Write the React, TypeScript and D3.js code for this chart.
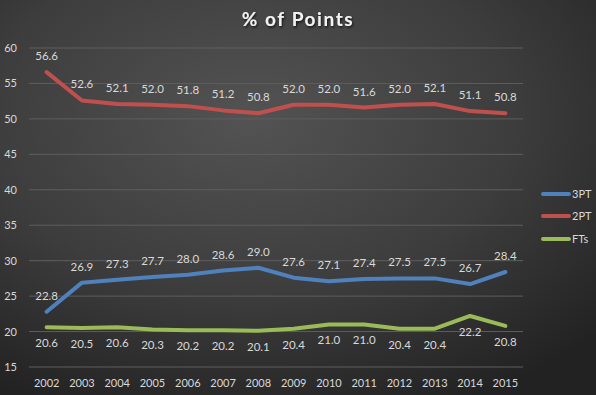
import React from "react";
import * as d3 from "d3";

const years = ["2002","2003","2004","2005","2006","2007","2008","2009","2010","2011","2012","2013","2014","2015"];
const seriesNames = ["3PT", "2PT", "FTs"];
const threePT = [22.8, 26.9, 27.3, 27.7, 28.0, 28.6, 29.0, 27.6, 27.1, 27.4, 27.5, 27.5, 26.7, 28.4];
const twoPT = [56.6, 52.6, 52.1, 52.0, 51.8, 51.2, 50.8, 52.0, 52.0, 51.6, 52.0, 52.1, 51.1, 50.8];
const fts = [20.6, 20.5, 20.6, 20.3, 20.2, 20.2, 20.1, 20.4, 21.0, 21.0, 20.4, 20.4, 22.2, 20.8];
const yTicks = [15, 20, 25, 30, 35, 40, 45, 50, 55, 60];
const colors = ["#4f81bd", "#c0504d", "#9bbb59"];

const W = 596, H = 395;
const FONT = "Lato, 'Open Sans', sans-serif";

export default function App() {
  const x = d3.scalePoint<string>().domain(years).range([29, 523]).padding(0.5);
  const y = d3.scaleLinear().domain([15, 60]).range([367, 48]);
  const line = d3.line<number>().x((_, i) => x(years[i])!).y(d => y(d));
  const all = [threePT, twoPT, fts];
  const labelBelow = [false, false, true];

  return (
    <svg width={W} height={H} style={{ position: "absolute", left: 0, top: 0 }}>
      <defs>
        <radialGradient id="bg" cx="0.42" cy="0.3" r="0.8">
          <stop offset="0" stopColor="#535353" />
          <stop offset="0.55" stopColor="#3d3d3d" />
          <stop offset="1" stopColor="#222222" />
        </radialGradient>
        <filter id="sh" x="-10%" y="-30%" width="120%" height="160%">
          <feDropShadow dx="1" dy="1.5" stdDeviation="1" floodColor="#000" floodOpacity="0.7" />
        </filter>
      </defs>
      <rect x={0} y={0} width={W} height={H} fill="url(#bg)" />
      <text x={298} y={26} textAnchor="middle" fill="#f2f2f2" fontFamily={FONT} fontWeight="bold"
        fontSize={19} letterSpacing={1.6} filter="url(#sh)">% of Points</text>
      {yTicks.map(t => (
        <g key={t}>
          <line x1={29} x2={523} y1={y(t)} y2={y(t)} stroke="#5e5e5e" strokeWidth={1} />
          <text x={17} y={y(t) + 4} textAnchor="end" fill="#d9d9d9" fontFamily={FONT} fontSize={11}>{t}</text>
        </g>
      ))}
      {years.map(yr => (
        <text key={yr} x={x(yr)} y={387} textAnchor="middle" fill="#d9d9d9" fontFamily={FONT} fontSize={11}>{yr}</text>
      ))}
      {all.map((s, si) => (
        <path key={si} d={line(s)!} fill="none" stroke={colors[si]} strokeWidth={4}
          strokeLinejoin="round" strokeLinecap="round" />
      ))}
      {all.map((s, si) => s.map((v, i) => (
        <text key={si + "-" + i} x={x(years[i])} y={labelBelow[si] ? y(v) + 20 : y(v) - 12}
          textAnchor="middle" fill="#d9d9d9" fontFamily={FONT} fontSize={11.5}>{v.toFixed(1)}</text>
      )))}
      {seriesNames.map((n, i) => {
        const ly = [194, 216, 239][i];
        return (
          <g key={n}>
            <line x1={543} x2={569} y1={ly} y2={ly} stroke={colors[i]} strokeWidth={4} strokeLinecap="round" />
            <text x={572} y={ly + 4} fill="#d9d9d9" fontFamily={FONT} fontSize={11}>{n}</text>
          </g>
        );
      })}
    </svg>
  );
}
